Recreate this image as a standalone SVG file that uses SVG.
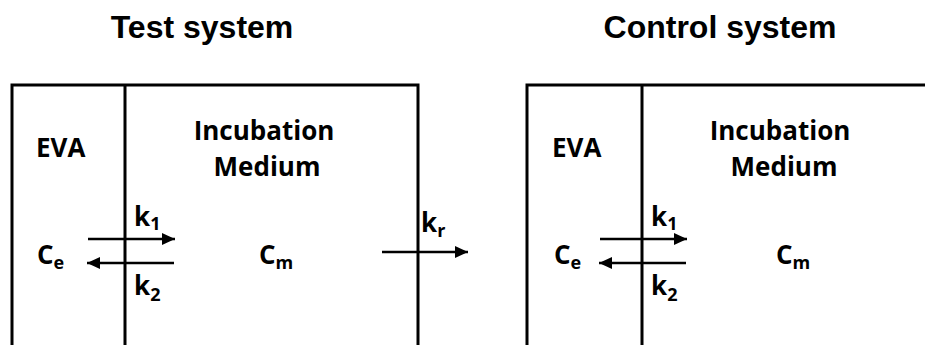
<svg xmlns="http://www.w3.org/2000/svg" width="925" height="345" viewBox="0 0 925 345">
<style>
.title{font-family:"Liberation Sans",Arial,sans-serif;font-weight:bold;font-size:32px;fill:#000;text-anchor:middle}
.lbl{font-family:"Open Sans",Lato,sans-serif;font-weight:bold;font-size:26px;fill:#000}
.mid{text-anchor:middle}
.sub{font-size:18px}
.box{fill:none;stroke:#000;stroke-width:3}
.arr{stroke:#000;stroke-width:2.5;fill:none;marker-end:url(#ah)}
</style>
<defs>
<marker id="ah" markerUnits="userSpaceOnUse" markerWidth="14" markerHeight="14" viewBox="0 0 14 14" refX="13" refY="7" orient="auto">
<path d="M0,1 L13,7 L0,13 Z" fill="#000"/>
</marker>
</defs>
<rect width="925" height="345" fill="#fff"/>
<g id="test-system">
<text class="title" x="202" y="38">Test system</text>
<path class="box" d="M12,345 V85 H418 V345"/>
<line class="box" x1="125" y1="85" x2="125" y2="345"/>
<g id="test-eva">
<text class="lbl" x="36" y="157">EVA</text>
<text class="lbl" x="37" y="264">C<tspan class="sub" dy="5">e</tspan></text>
</g>
<g id="test-medium">
<text class="lbl mid" x="264" y="140">Incubation</text>
<text class="lbl mid" x="267" y="176">Medium</text>
<text class="lbl" x="259" y="264">C<tspan class="sub" dy="5">m</tspan></text>
</g>
</g>
<g id="control-system">
<text class="title" x="720" y="38">Control system</text>
<path class="box" d="M527,345 V85 H925"/>
<line class="box" x1="642" y1="85" x2="642" y2="345"/>
<g id="control-eva">
<text class="lbl" x="552" y="157">EVA</text>
<text class="lbl" x="554" y="264">C<tspan class="sub" dy="5">e</tspan></text>
</g>
<g id="control-medium">
<text class="lbl mid" x="780" y="140">Incubation</text>
<text class="lbl mid" x="784" y="176">Medium</text>
<text class="lbl" x="776" y="264">C<tspan class="sub" dy="5">m</tspan></text>
</g>
</g>
<g id="connectors">
<line class="arr" x1="88" y1="239" x2="175" y2="239"/>
<line class="arr" x1="174" y1="263" x2="87" y2="263"/>
<line class="arr" x1="382" y1="252" x2="468" y2="252"/>
<line class="arr" x1="600" y1="239" x2="687" y2="239"/>
<line class="arr" x1="686" y1="263" x2="599" y2="263"/>
<text class="lbl" x="134" y="226">k<tspan class="sub" dy="4">1</tspan></text>
<text class="lbl" x="134" y="295">k<tspan class="sub" dy="6">2</tspan></text>
<text class="lbl" x="421" y="232">k<tspan class="sub" dy="5">r</tspan></text>
<text class="lbl" x="651" y="226">k<tspan class="sub" dy="4">1</tspan></text>
<text class="lbl" x="651" y="295">k<tspan class="sub" dy="6">2</tspan></text>
</g>
</svg>
